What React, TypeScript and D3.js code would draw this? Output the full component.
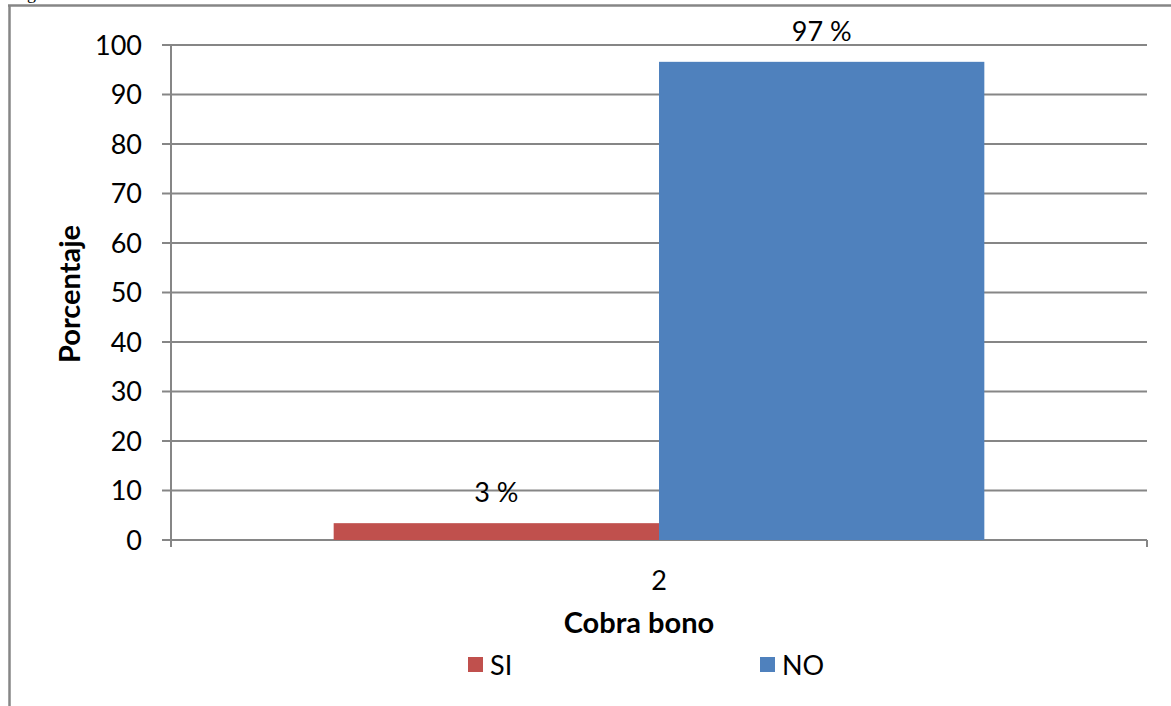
import React from "react";
import * as d3 from "d3";

const categories = ["2"];
const seriesNames = ["SI", "NO"];
const seriesColors = ["#C0504D", "#4F81BD"];
const siValues = [3.4];
const noValues = [96.6];
const valueLabels = [["3 %"], ["97 %"]];
const yTicks = [0, 10, 20, 30, 40, 50, 60, 70, 80, 90, 100];

const W = 1171;
const H = 706;
const FONT = "Lato, 'Open Sans', sans-serif";
const GRID = "#868686";

export default function App() {
  const left = 171, right = 1147, top = 45, bottom = 540;
  const y = d3.scaleLinear().domain([0, 100]).range([bottom, top]);
  const x = d3.scaleBand().domain(categories).range([left, right]).padding(0);
  const bw = x.bandwidth();
  const groupW = bw * (2 / 3);
  const inner = d3.scaleBand().domain(seriesNames).range([0, groupW]).padding(0);
  const series = [siValues, noValues];

  return (
    <svg width={W} height={H} style={{ position: "absolute", left: 0, top: 0, background: "#fff" }} fontFamily={FONT}>
      {/* outer frame */}
      <line x1={8} x2={W} y1={5.5} y2={5.5} stroke={GRID} strokeWidth={2.5} />
      <line x1={9.5} x2={9.5} y1={5} y2={H} stroke={GRID} strokeWidth={2.5} />
      <text x={12} y={-1} fontSize={18} fontFamily="'Liberation Serif', serif">Figura</text>

      {/* gridlines + ticks */}
      {yTicks.map((t) => (
        <g key={t}>
          <line x1={left - 9} x2={right} y1={y(t)} y2={y(t)} stroke={GRID} strokeWidth={2} />
          <text x={left - 29} y={y(t)} dy="0.36em" textAnchor="end" fontSize={27} fill="#000">{t}</text>
        </g>
      ))}
      {/* y axis line */}
      <line x1={left} x2={left} y1={top} y2={bottom + 7} stroke={GRID} strokeWidth={2} />
      {/* category ticks */}
      <line x1={right} x2={right} y1={bottom} y2={bottom + 7} stroke={GRID} strokeWidth={2} />

      {/* bars */}
      {categories.map((c, ci) => {
        const gx = (x(c) as number) + (bw - groupW) / 2;
        return (
          <g key={c}>
            {series.map((vals, si) => {
              const bx = gx + (inner(seriesNames[si]) as number);
              return (
                <g key={si}>
                  <rect x={bx} y={y(vals[ci])} width={inner.bandwidth()} height={bottom - y(vals[ci])} fill={seriesColors[si]} />
                  <text x={bx + inner.bandwidth() / 2} y={y(vals[ci]) - 21} textAnchor="middle" fontSize={27} fill="#000">{valueLabels[si][ci]}</text>
                </g>
              );
            })}
            <text x={(x(c) as number) + bw / 2} y={590} textAnchor="middle" fontSize={27} fill="#000">{c}</text>
          </g>
        );
      })}

      {/* axis titles */}
      <text x={639} y={633} textAnchor="middle" fontSize={29} fontWeight="bold" fill="#000">Cobra bono</text>
      <text transform="translate(80,294) rotate(-90)" textAnchor="middle" fontSize={29} fontWeight="bold" fill="#000">Porcentaje</text>

      {/* legend */}
      {seriesNames.map((s, i) => {
        const lx = i === 0 ? 468 : 760;
        return (
          <g key={s}>
            <rect x={lx} y={657} width={15} height={15} fill={seriesColors[i]} />
            <text x={lx + 22} y={675} fontSize={27} fill="#000">{s}</text>
          </g>
        );
      })}
    </svg>
  );
}
